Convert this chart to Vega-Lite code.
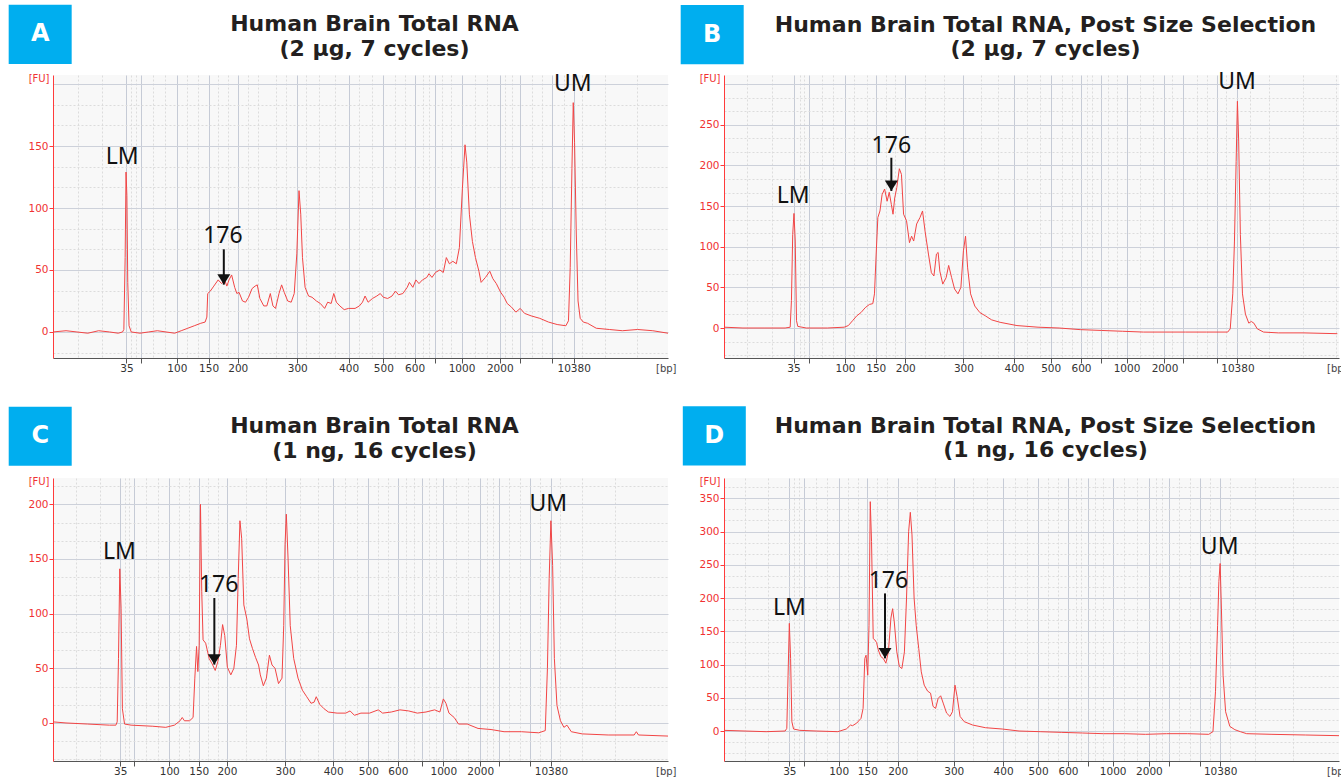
{
"$schema":"https://vega.github.io/schema/vega-lite/v6.json",
"padding":{"left":8,"top":4,"right":0,"bottom":0},
"background":"white",
"columns":2,
"spacing":{"row":120,"column":56},
"bounds":"flush",
"datasets":{
"traceA":[{"m":120,"fu":0},{"m":150,"fu":1},{"m":175,"fu":0},{"m":200,"fu":-1},{"m":225,"fu":1},{"m":250,"fu":0},{"m":270,"fu":-1},{"m":280,"fu":0},{"m":283,"fu":2},{"m":286,"fu":60},{"m":288,"fu":129},{"m":290,"fu":110},{"m":292,"fu":40},{"m":295,"fu":5},{"m":300,"fu":0},{"m":320,"fu":-1},{"m":340,"fu":0},{"m":360,"fu":1},{"m":380,"fu":0},{"m":400,"fu":-1},{"m":415,"fu":1},{"m":430,"fu":3},{"m":445,"fu":5},{"m":460,"fu":7},{"m":470,"fu":8},{"m":474,"fu":12},{"m":476,"fu":31},{"m":482,"fu":33},{"m":490,"fu":37},{"m":500,"fu":42},{"m":508,"fu":39},{"m":515,"fu":42},{"m":520,"fu":37},{"m":525,"fu":42},{"m":531,"fu":46},{"m":538,"fu":36},{"m":543,"fu":31},{"m":548,"fu":32},{"m":556,"fu":25},{"m":563,"fu":24},{"m":570,"fu":28},{"m":578,"fu":35},{"m":585,"fu":37},{"m":590,"fu":38},{"m":596,"fu":27},{"m":605,"fu":21},{"m":612,"fu":21},{"m":620,"fu":31},{"m":626,"fu":21},{"m":632,"fu":19},{"m":640,"fu":31},{"m":646,"fu":38},{"m":652,"fu":32},{"m":660,"fu":25},{"m":668,"fu":24},{"m":675,"fu":31},{"m":681,"fu":63},{"m":686,"fu":114},{"m":690,"fu":95},{"m":694,"fu":60},{"m":700,"fu":36},{"m":708,"fu":29},{"m":716,"fu":28},{"m":726,"fu":25},{"m":735,"fu":23},{"m":745,"fu":19},{"m":752,"fu":24},{"m":760,"fu":23},{"m":766,"fu":31},{"m":772,"fu":24},{"m":780,"fu":21},{"m":790,"fu":18},{"m":800,"fu":19},{"m":815,"fu":19},{"m":825,"fu":21},{"m":832,"fu":24},{"m":838,"fu":29},{"m":845,"fu":24},{"m":855,"fu":27},{"m":865,"fu":29},{"m":873,"fu":31},{"m":880,"fu":28},{"m":890,"fu":27},{"m":900,"fu":29},{"m":908,"fu":33},{"m":915,"fu":30},{"m":925,"fu":31},{"m":935,"fu":36},{"m":940,"fu":40},{"m":948,"fu":36},{"m":955,"fu":42},{"m":962,"fu":39},{"m":970,"fu":42},{"m":980,"fu":44},{"m":985,"fu":47},{"m":992,"fu":44},{"m":1000,"fu":48},{"m":1010,"fu":50},{"m":1018,"fu":48},{"m":1025,"fu":60},{"m":1032,"fu":55},{"m":1040,"fu":57},{"m":1048,"fu":55},{"m":1055,"fu":68},{"m":1062,"fu":116},{"m":1068,"fu":151},{"m":1072,"fu":137},{"m":1078,"fu":95},{"m":1085,"fu":73},{"m":1092,"fu":60},{"m":1100,"fu":49},{"m":1105,"fu":40},{"m":1115,"fu":44},{"m":1125,"fu":49},{"m":1132,"fu":43},{"m":1140,"fu":39},{"m":1150,"fu":32},{"m":1158,"fu":28},{"m":1165,"fu":23},{"m":1175,"fu":20},{"m":1185,"fu":16},{"m":1195,"fu":19},{"m":1205,"fu":15},{"m":1220,"fu":13},{"m":1240,"fu":11},{"m":1260,"fu":8},{"m":1280,"fu":6},{"m":1300,"fu":5},{"m":1306,"fu":9},{"m":1310,"fu":52},{"m":1314,"fu":132},{"m":1317,"fu":185},{"m":1320,"fu":153},{"m":1324,"fu":79},{"m":1328,"fu":25},{"m":1333,"fu":11},{"m":1340,"fu":8},{"m":1350,"fu":7},{"m":1370,"fu":3},{"m":1400,"fu":2},{"m":1430,"fu":1},{"m":1465,"fu":2},{"m":1500,"fu":1},{"m":1535,"fu":-1}],
"traceB":[{"m":105,"fu":1},{"m":150,"fu":0},{"m":200,"fu":0},{"m":250,"fu":0},{"m":262,"fu":1},{"m":265,"fu":34},{"m":268,"fu":115},{"m":271,"fu":141},{"m":274,"fu":107},{"m":277,"fu":9},{"m":280,"fu":2},{"m":300,"fu":0},{"m":350,"fu":0},{"m":390,"fu":1},{"m":400,"fu":3},{"m":410,"fu":9},{"m":420,"fu":15},{"m":430,"fu":19},{"m":440,"fu":25},{"m":450,"fu":29},{"m":458,"fu":30},{"m":462,"fu":42},{"m":466,"fu":91},{"m":470,"fu":136},{"m":475,"fu":144},{"m":480,"fu":164},{"m":486,"fu":171},{"m":492,"fu":156},{"m":497,"fu":167},{"m":502,"fu":152},{"m":506,"fu":140},{"m":510,"fu":160},{"m":515,"fu":173},{"m":521,"fu":196},{"m":526,"fu":189},{"m":531,"fu":140},{"m":538,"fu":132},{"m":545,"fu":105},{"m":550,"fu":113},{"m":555,"fu":107},{"m":562,"fu":128},{"m":570,"fu":136},{"m":576,"fu":144},{"m":582,"fu":119},{"m":590,"fu":91},{"m":597,"fu":68},{"m":603,"fu":64},{"m":609,"fu":91},{"m":613,"fu":93},{"m":617,"fu":70},{"m":624,"fu":54},{"m":632,"fu":62},{"m":638,"fu":77},{"m":645,"fu":62},{"m":652,"fu":48},{"m":660,"fu":42},{"m":667,"fu":50},{"m":673,"fu":95},{"m":678,"fu":113},{"m":683,"fu":74},{"m":690,"fu":42},{"m":700,"fu":27},{"m":712,"fu":19},{"m":725,"fu":15},{"m":740,"fu":10},{"m":760,"fu":7},{"m":800,"fu":3},{"m":850,"fu":1},{"m":900,"fu":0},{"m":950,"fu":-2},{"m":1000,"fu":-3},{"m":1050,"fu":-4},{"m":1100,"fu":-5},{"m":1150,"fu":-5},{"m":1200,"fu":-5},{"m":1250,"fu":-5},{"m":1300,"fu":-5},{"m":1306,"fu":-1},{"m":1312,"fu":42},{"m":1316,"fu":107},{"m":1320,"fu":205},{"m":1323,"fu":279},{"m":1326,"fu":230},{"m":1330,"fu":115},{"m":1335,"fu":42},{"m":1342,"fu":17},{"m":1350,"fu":6},{"m":1356,"fu":8},{"m":1362,"fu":6},{"m":1370,"fu":-1},{"m":1385,"fu":-5},{"m":1420,"fu":-6},{"m":1480,"fu":-6},{"m":1560,"fu":-7}],
"traceC":[{"m":120,"fu":1},{"m":150,"fu":0},{"m":200,"fu":-1},{"m":250,"fu":-2},{"m":265,"fu":-2},{"m":268,"fu":1},{"m":271,"fu":59},{"m":274,"fu":141},{"m":277,"fu":105},{"m":280,"fu":13},{"m":285,"fu":-1},{"m":300,"fu":-2},{"m":350,"fu":-3},{"m":380,"fu":-4},{"m":400,"fu":-2},{"m":413,"fu":2},{"m":418,"fu":5},{"m":423,"fu":2},{"m":435,"fu":2},{"m":443,"fu":5},{"m":447,"fu":41},{"m":451,"fu":70},{"m":454,"fu":47},{"m":457,"fu":71},{"m":460,"fu":200},{"m":463,"fu":120},{"m":466,"fu":76},{"m":472,"fu":73},{"m":480,"fu":59},{"m":487,"fu":54},{"m":494,"fu":48},{"m":500,"fu":56},{"m":506,"fu":71},{"m":511,"fu":90},{"m":516,"fu":80},{"m":522,"fu":51},{"m":530,"fu":44},{"m":537,"fu":50},{"m":543,"fu":71},{"m":547,"fu":132},{"m":551,"fu":185},{"m":555,"fu":169},{"m":560,"fu":108},{"m":567,"fu":95},{"m":573,"fu":77},{"m":580,"fu":68},{"m":587,"fu":60},{"m":594,"fu":53},{"m":598,"fu":44},{"m":605,"fu":34},{"m":612,"fu":41},{"m":619,"fu":62},{"m":625,"fu":53},{"m":632,"fu":50},{"m":640,"fu":36},{"m":648,"fu":41},{"m":652,"fu":89},{"m":655,"fu":163},{"m":658,"fu":191},{"m":662,"fu":150},{"m":667,"fu":89},{"m":675,"fu":59},{"m":685,"fu":41},{"m":695,"fu":30},{"m":705,"fu":24},{"m":715,"fu":18},{"m":722,"fu":19},{"m":727,"fu":24},{"m":735,"fu":17},{"m":745,"fu":13},{"m":755,"fu":10},{"m":775,"fu":9},{"m":795,"fu":9},{"m":805,"fu":11},{"m":815,"fu":7},{"m":830,"fu":9},{"m":850,"fu":9},{"m":870,"fu":12},{"m":880,"fu":9},{"m":900,"fu":10},{"m":920,"fu":12},{"m":940,"fu":11},{"m":960,"fu":9},{"m":980,"fu":10},{"m":1000,"fu":12},{"m":1012,"fu":10},{"m":1020,"fu":22},{"m":1026,"fu":18},{"m":1033,"fu":9},{"m":1045,"fu":5},{"m":1055,"fu":-1},{"m":1075,"fu":-1},{"m":1100,"fu":-5},{"m":1130,"fu":-6},{"m":1160,"fu":-8},{"m":1200,"fu":-8},{"m":1240,"fu":-9},{"m":1255,"fu":-7},{"m":1260,"fu":50},{"m":1264,"fu":132},{"m":1268,"fu":185},{"m":1272,"fu":144},{"m":1276,"fu":59},{"m":1282,"fu":16},{"m":1290,"fu":2},{"m":1298,"fu":-4},{"m":1305,"fu":-2},{"m":1315,"fu":-8},{"m":1340,"fu":-10},{"m":1400,"fu":-11},{"m":1460,"fu":-11},{"m":1465,"fu":-8},{"m":1470,"fu":-11},{"m":1538,"fu":-12}],
"traceD":[{"m":100,"fu":1},{"m":150,"fu":0},{"m":200,"fu":-1},{"m":245,"fu":0},{"m":249,"fu":4},{"m":252,"fu":84},{"m":255,"fu":162},{"m":258,"fu":109},{"m":261,"fu":14},{"m":265,"fu":3},{"m":280,"fu":1},{"m":320,"fu":0},{"m":370,"fu":-1},{"m":390,"fu":3},{"m":400,"fu":9},{"m":405,"fu":8},{"m":415,"fu":12},{"m":425,"fu":19},{"m":430,"fu":34},{"m":434,"fu":109},{"m":437,"fu":114},{"m":441,"fu":84},{"m":444,"fu":159},{"m":447,"fu":345},{"m":450,"fu":285},{"m":454,"fu":139},{"m":458,"fu":137},{"m":462,"fu":133},{"m":466,"fu":122},{"m":472,"fu":112},{"m":478,"fu":109},{"m":484,"fu":102},{"m":490,"fu":119},{"m":496,"fu":170},{"m":500,"fu":184},{"m":504,"fu":164},{"m":510,"fu":119},{"m":516,"fu":97},{"m":522,"fu":94},{"m":528,"fu":119},{"m":533,"fu":200},{"m":538,"fu":300},{"m":542,"fu":329},{"m":546,"fu":295},{"m":551,"fu":200},{"m":556,"fu":159},{"m":562,"fu":124},{"m":568,"fu":89},{"m":575,"fu":69},{"m":583,"fu":60},{"m":590,"fu":57},{"m":596,"fu":37},{"m":602,"fu":34},{"m":608,"fu":49},{"m":614,"fu":53},{"m":620,"fu":42},{"m":628,"fu":27},{"m":636,"fu":22},{"m":642,"fu":29},{"m":648,"fu":69},{"m":653,"fu":52},{"m":660,"fu":22},{"m":670,"fu":14},{"m":690,"fu":9},{"m":720,"fu":5},{"m":760,"fu":3},{"m":800,"fu":0},{"m":850,"fu":-1},{"m":900,"fu":-2},{"m":950,"fu":-3},{"m":1000,"fu":-4},{"m":1050,"fu":-4},{"m":1100,"fu":-5},{"m":1150,"fu":-4},{"m":1200,"fu":-4},{"m":1250,"fu":-5},{"m":1260,"fu":-1},{"m":1266,"fu":59},{"m":1271,"fu":159},{"m":1274,"fu":225},{"m":1277,"fu":252},{"m":1280,"fu":185},{"m":1284,"fu":84},{"m":1290,"fu":29},{"m":1300,"fu":7},{"m":1312,"fu":2},{"m":1325,"fu":-1},{"m":1340,"fu":-4},{"m":1400,"fu":-5},{"m":1480,"fu":-6},{"m":1559,"fu":-7}],
"notesA":[{"t":"LM","m":279,"fu":135.2},{"t":"176","m":511,"fu":71.8},{"t":"UM","m":1316,"fu":194.4}],
"notesB":[{"t":"LM","m":269,"fu":153.4},{"t":"176","m":502,"fu":215.6},{"t":"UM","m":1322,"fu":294.6}],
"notesC":[{"t":"LM","m":273,"fu":150.3},{"t":"176","m":502,"fu":119.8},{"t":"UM","m":1262,"fu":193.6}],
"notesD":[{"t":"LM","m":255,"fu":174.5},{"t":"176","m":490,"fu":215.6},{"t":"UM","m":1276,"fu":265.8}],
"arrowA":[{"m":513,"fu":38.2,"fu2":66.7}],
"arrowB":[{"m":502,"fu":168.6,"fu2":209.5}],
"arrowC":[{"m":492,"fu":53.4,"fu2":114.3}],
"arrowD":[{"m":482,"fu":109.3,"fu2":207}],
"tagA":[{"t":"A","m":90.5,"fu":240}],
"tagB":[{"t":"B","m":77,"fu":360.9}],
"tagC":[{"t":"C","m":90.5,"fu":262.3}],
"tagD":[{"t":"D","m":77,"fu":444.1}]
},
"concat":[
{
"width":615,"height":283,
"title":{"text":["Human Brain Total RNA","(2 µg, 7 cycles)"]},
"encoding":{
"x":{"field":"m","type":"quantitative","scale":{"domain":[120,1535],"nice":false,"zero":false},
"axis":{"values":[289,322,405,478,545,682,800,880,952,1000,1060,1148,1195,1268,1318,177,233,300,311,350,378,428,454,500,523,569,592,634,657,703,733,768,823,853,906,929,972,984,1015,1035,1090,1118,1160,1175,1222,1245,1295,1337,1390,1464],
"labelExpr":"datum.value==289?'35':datum.value==405?'100':datum.value==478?'150':datum.value==545?'200':datum.value==682?'300':datum.value==800?'400':datum.value==880?'500':datum.value==952?'600':datum.value==1060?'1000':datum.value==1148?'2000':datum.value==1318?'10380':''",
"gridDash":{"condition":{"test":"indexof([289,322,405,478,545,682,800,880,952,1000,1060,1148,1195,1268,1318],datum.value)>=0","value":[]},"value":[2,2]},
"gridColor":{"condition":{"test":"indexof([289,322,405,478,545,682,800,880,952,1000,1060,1148,1195,1268,1318],datum.value)>=0","value":"#c6cbd6"},"value":"#dcdcdc"},
"tickOpacity":{"condition":{"test":"indexof([289,322,405,478,545,682,800,880,952,1000,1060,1148,1195,1268,1318],datum.value)>=0","value":1},"value":0},
"title":"[bp]","titleX":623,"titleY":10,"titleAlign":"right","titleBaseline":"middle"}},
"y":{"field":"fu","type":"quantitative","scale":{"domain":[-21,207.3],"nice":false,"zero":false},
"axis":{"values":[-16.67,0,16.67,33.33,50,66.67,83.33,100,116.67,133.33,150,166.67,183.33,200],"format":".0f",
"labelExpr":"datum.value % 50 == 0 && datum.value <= 150 ? datum.label : ''",
"gridDash":{"condition":{"test":"datum.value % 50 == 0","value":[]},"value":[2,2]},
"gridColor":{"condition":{"test":"datum.value % 50 == 0","value":"#cdd1da"},"value":"#dcdcdc"},
"tickOpacity":{"condition":{"test":"datum.value % 50 == 0 && datum.value <= 150","value":1},"value":0},
"title":"[FU]","titleX":-4,"titleY":3,"titleAngle":0,"titleAlign":"right","titleBaseline":"middle"}}
},
"layer":[
{"data":{"name":"traceA"},"mark":{"type":"line","color":"#f24545","strokeWidth":1},"encoding":{}},
{"data":{"name":"arrowA"},"mark":{"type":"rule","color":"#111111","strokeWidth":2},"encoding":{"y2":{"field":"fu2"}}},
{"data":{"name":"arrowA"},"mark":{"type":"point","shape":"M-1,-1.6L1,-1.6L0,0Z","size":169,"filled":true,"color":"#111111","opacity":1}},
{"data":{"name":"notesA"},"mark":{"type":"text","font":"Noto Sans","fontSize":23,"color":"#111111","align":"center","baseline":"alphabetic"},"encoding":{"text":{"field":"t"}}},
{"data":{"name":"tagA"},"mark":{"type":"point","shape":"M-1,-0.94L1,-0.94L1,0.94L-1,0.94Z","size":3969,"filled":true,"color":"#00aeef","opacity":1}},
{"data":{"name":"tagA"},"mark":{"type":"text","font":"DejaVu Sans","fontWeight":"bold","fontSize":24,"color":"#ffffff","align":"center","baseline":"middle"},"encoding":{"text":{"field":"t"}}}
]
},
{
"width":615,"height":283,
"title":{"text":["Human Brain Total RNA, Post Size Selection","(2 µg, 7 cycles)"]},
"encoding":{
"x":{"field":"m","type":"quantitative","scale":{"domain":[105,1564],"nice":false,"zero":false},
"axis":{"values":[270,306,392,465,535,673,793,880,952,999,1060,1150,1193,1274,1323,159,218,285,294,337,363,413,444,489,510,581,626,714,754,825,854,906,930,965,977,1015,1037,1091,1122,1169,1226,1250,1297,1352,1399,1478,1558],
"labelExpr":"datum.value==270?'35':datum.value==392?'100':datum.value==465?'150':datum.value==535?'200':datum.value==673?'300':datum.value==793?'400':datum.value==880?'500':datum.value==952?'600':datum.value==1060?'1000':datum.value==1150?'2000':datum.value==1323?'10380':''",
"gridDash":{"condition":{"test":"indexof([270,306,392,465,535,673,793,880,952,999,1060,1150,1193,1274,1323],datum.value)>=0","value":[]},"value":[2,2]},
"gridColor":{"condition":{"test":"indexof([270,306,392,465,535,673,793,880,952,999,1060,1150,1193,1274,1323],datum.value)>=0","value":"#c6cbd6"},"value":"#dcdcdc"},
"tickOpacity":{"condition":{"test":"indexof([270,306,392,465,535,673,793,880,952,999,1060,1150,1193,1274,1323],datum.value)>=0","value":1},"value":0},
"title":"[bp]","titleX":623,"titleY":10,"titleAlign":"right","titleBaseline":"middle"}},
"y":{"field":"fu","type":"quantitative","scale":{"domain":[-36.9,311.3],"nice":false,"zero":false},
"axis":{"values":[-33.33,-16.67,0,16.67,33.33,50,66.67,83.33,100,116.67,133.33,150,166.67,183.33,200,216.67,233.33,250,266.67,283.33,300],"format":".0f",
"labelExpr":"datum.value % 50 == 0 && datum.value <= 250 ? datum.label : ''",
"gridDash":{"condition":{"test":"datum.value % 50 == 0","value":[]},"value":[2,2]},
"gridColor":{"condition":{"test":"datum.value % 50 == 0","value":"#cdd1da"},"value":"#dcdcdc"},
"tickOpacity":{"condition":{"test":"datum.value % 50 == 0 && datum.value <= 250","value":1},"value":0},
"title":"[FU]","titleX":-4,"titleY":3,"titleAngle":0,"titleAlign":"right","titleBaseline":"middle"}}
},
"layer":[
{"data":{"name":"traceB"},"mark":{"type":"line","color":"#f24545","strokeWidth":1},"encoding":{}},
{"data":{"name":"arrowB"},"mark":{"type":"rule","color":"#111111","strokeWidth":2},"encoding":{"y2":{"field":"fu2"}}},
{"data":{"name":"arrowB"},"mark":{"type":"point","shape":"M-1,-1.6L1,-1.6L0,0Z","size":169,"filled":true,"color":"#111111","opacity":1}},
{"data":{"name":"notesB"},"mark":{"type":"text","font":"Noto Sans","fontSize":23,"color":"#111111","align":"center","baseline":"alphabetic"},"encoding":{"text":{"field":"t"}}},
{"data":{"name":"tagB"},"mark":{"type":"point","shape":"M-1,-0.94L1,-0.94L1,0.94L-1,0.94Z","size":3969,"filled":true,"color":"#00aeef","opacity":1}},
{"data":{"name":"tagB"},"mark":{"type":"text","font":"DejaVu Sans","fontWeight":"bold","fontSize":24,"color":"#ffffff","align":"center","baseline":"middle"},"encoding":{"text":{"field":"t"}}}
]
},
{
"width":615,"height":283,
"title":{"text":["Human Brain Total RNA","(1 ng, 16 cycles)"]},
"encoding":{
"x":{"field":"m","type":"quantitative","scale":{"domain":[120,1538],"nice":false,"zero":false},
"axis":{"values":[275,307,388,456,521,655,766,847,915,970,1020,1105,1148,1220,1268,172,228,285,296,335,362,410,433,478,500,565,610,690,730,793,820,870,893,933,952,987,1003,1050,1078,1120,1134,1172,1196,1244,1288,1340,1415],
"labelExpr":"datum.value==275?'35':datum.value==388?'100':datum.value==456?'150':datum.value==521?'200':datum.value==655?'300':datum.value==766?'400':datum.value==847?'500':datum.value==915?'600':datum.value==1020?'1000':datum.value==1105?'2000':datum.value==1268?'10380':''",
"gridDash":{"condition":{"test":"indexof([275,307,388,456,521,655,766,847,915,970,1020,1105,1148,1220,1268],datum.value)>=0","value":[]},"value":[2,2]},
"gridColor":{"condition":{"test":"indexof([275,307,388,456,521,655,766,847,915,970,1020,1105,1148,1220,1268],datum.value)>=0","value":"#c6cbd6"},"value":"#dcdcdc"},
"tickOpacity":{"condition":{"test":"indexof([275,307,388,456,521,655,766,847,915,970,1020,1105,1148,1220,1268],datum.value)>=0","value":1},"value":0},
"title":"[bp]","titleX":623,"titleY":10,"titleAlign":"right","titleBaseline":"middle"}},
"y":{"field":"fu","type":"quantitative","scale":{"domain":[-34.8,224.1],"nice":false,"zero":false},
"axis":{"values":[-33.33,-16.67,0,16.67,33.33,50,66.67,83.33,100,116.67,133.33,150,166.67,183.33,200,216.67],"format":".0f",
"labelExpr":"datum.value % 50 == 0 && datum.value <= 200 ? datum.label : ''",
"gridDash":{"condition":{"test":"datum.value % 50 == 0","value":[]},"value":[2,2]},
"gridColor":{"condition":{"test":"datum.value % 50 == 0","value":"#cdd1da"},"value":"#dcdcdc"},
"tickOpacity":{"condition":{"test":"datum.value % 50 == 0 && datum.value <= 200","value":1},"value":0},
"title":"[FU]","titleX":-4,"titleY":3,"titleAngle":0,"titleAlign":"right","titleBaseline":"middle"}}
},
"layer":[
{"data":{"name":"traceC"},"mark":{"type":"line","color":"#f24545","strokeWidth":1},"encoding":{}},
{"data":{"name":"arrowC"},"mark":{"type":"rule","color":"#111111","strokeWidth":2},"encoding":{"y2":{"field":"fu2"}}},
{"data":{"name":"arrowC"},"mark":{"type":"point","shape":"M-1,-1.6L1,-1.6L0,0Z","size":169,"filled":true,"color":"#111111","opacity":1}},
{"data":{"name":"notesC"},"mark":{"type":"text","font":"Noto Sans","fontSize":23,"color":"#111111","align":"center","baseline":"alphabetic"},"encoding":{"text":{"field":"t"}}},
{"data":{"name":"tagC"},"mark":{"type":"point","shape":"M-1,-0.94L1,-0.94L1,0.94L-1,0.94Z","size":3969,"filled":true,"color":"#00aeef","opacity":1}},
{"data":{"name":"tagC"},"mark":{"type":"text","font":"DejaVu Sans","fontWeight":"bold","fontSize":24,"color":"#ffffff","align":"center","baseline":"middle"},"encoding":{"text":{"field":"t"}}}
]
},
{
"width":615,"height":283,
"title":{"text":["Human Brain Total RNA, Post Size Selection","(1 ng, 16 cycles)"]},
"encoding":{
"x":{"field":"m","type":"quantitative","scale":{"domain":[100,1559],"nice":false,"zero":false},
"axis":{"values":[255,290,372,440,512,645,762,845,916,963,1022,1108,1155,1230,1277,150,205,266,278,318,345,395,418,463,487,557,600,690,725,790,818,868,892,935,948,980,1000,1050,1080,1125,1140,1180,1205,1253,1300,1360,1450],
"labelExpr":"datum.value==255?'35':datum.value==372?'100':datum.value==440?'150':datum.value==512?'200':datum.value==645?'300':datum.value==762?'400':datum.value==845?'500':datum.value==916?'600':datum.value==1022?'1000':datum.value==1108?'2000':datum.value==1277?'10380':''",
"gridDash":{"condition":{"test":"indexof([255,290,372,440,512,645,762,845,916,963,1022,1108,1155,1230,1277],datum.value)>=0","value":[]},"value":[2,2]},
"gridColor":{"condition":{"test":"indexof([255,290,372,440,512,645,762,845,916,963,1022,1108,1155,1230,1277],datum.value)>=0","value":"#c6cbd6"},"value":"#dcdcdc"},
"tickOpacity":{"condition":{"test":"indexof([255,290,372,440,512,645,762,845,916,963,1022,1108,1155,1230,1277],datum.value)>=0","value":1},"value":0},
"title":"[bp]","titleX":623,"titleY":10,"titleAlign":"right","titleBaseline":"middle"}},
"y":{"field":"fu","type":"quantitative","scale":{"domain":[-45.1,380.6],"nice":false,"zero":false},
"axis":{"values":[-33.33,-16.67,0,16.67,33.33,50,66.67,83.33,100,116.67,133.33,150,166.67,183.33,200,216.67,233.33,250,266.67,283.33,300,316.67,333.33,350,366.67],"format":".0f",
"labelExpr":"datum.value % 50 == 0 && datum.value <= 350 ? datum.label : ''",
"gridDash":{"condition":{"test":"datum.value % 50 == 0","value":[]},"value":[2,2]},
"gridColor":{"condition":{"test":"datum.value % 50 == 0","value":"#cdd1da"},"value":"#dcdcdc"},
"tickOpacity":{"condition":{"test":"datum.value % 50 == 0 && datum.value <= 350","value":1},"value":0},
"title":"[FU]","titleX":-4,"titleY":3,"titleAngle":0,"titleAlign":"right","titleBaseline":"middle"}}
},
"layer":[
{"data":{"name":"traceD"},"mark":{"type":"line","color":"#f24545","strokeWidth":1},"encoding":{}},
{"data":{"name":"arrowD"},"mark":{"type":"rule","color":"#111111","strokeWidth":2},"encoding":{"y2":{"field":"fu2"}}},
{"data":{"name":"arrowD"},"mark":{"type":"point","shape":"M-1,-1.6L1,-1.6L0,0Z","size":169,"filled":true,"color":"#111111","opacity":1}},
{"data":{"name":"notesD"},"mark":{"type":"text","font":"Noto Sans","fontSize":23,"color":"#111111","align":"center","baseline":"alphabetic"},"encoding":{"text":{"field":"t"}}},
{"data":{"name":"tagD"},"mark":{"type":"point","shape":"M-1,-0.94L1,-0.94L1,0.94L-1,0.94Z","size":3969,"filled":true,"color":"#00aeef","opacity":1}},
{"data":{"name":"tagD"},"mark":{"type":"text","font":"DejaVu Sans","fontWeight":"bold","fontSize":24,"color":"#ffffff","align":"center","baseline":"middle"},"encoding":{"text":{"field":"t"}}}
]
}
],
"config":{
"view":{"stroke":null,"fill":"#f8f8f8"},
"font":"DejaVu Sans",
"title":{"font":"DejaVu Sans","fontSize":22,"fontWeight":"bold","color":"#231f20","lineHeight":24.5,"offset":-56,"dx":14,"anchor":"middle"},
"axis":{"labelFont":"DejaVu Sans","labelFontSize":10.5,"titleFont":"DejaVu Sans","titleFontSize":10,"titleFontWeight":"normal","labelOverlap":false,"labelFlush":false,"labelBound":false,"gridWidth":1,"domainWidth":1,"tickWidth":1},
"axisX":{"domainColor":"#555555","tickColor":"#555555","tickSize":5,"labelPadding":0,"labelColor":"#333333","titleColor":"#444444"},
"axisY":{"domainColor":"#ff3b3b","tickColor":"#ff3b3b","tickSize":4,"labelPadding":1,"labelColor":"#f03232","titleColor":"#f03232"}
}
}
